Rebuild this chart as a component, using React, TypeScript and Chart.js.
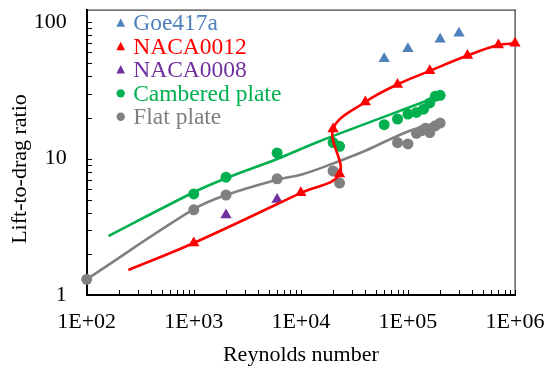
import React, { useEffect, useRef } from 'react';
import { Chart, registerables } from 'chart.js';

Chart.register(...registerables);

// ---- data (Reynolds number, lift-to-drag ratio) ----
const goeRe = [6e4, 1e5, 2e5, 3e5];
const goeLD = [54, 64, 75, 83];

const naca0012Re = [1e3, 1e4, 2.3e4, 2e4, 4e4, 8e4, 1.6e5, 3.6e5, 7e5, 1e6];
const naca0012LD = [2.4, 5.6, 7.7, 16.5, 26, 35, 44, 57, 68, 70];
const naca0012CurveRe = [245, 1e3, 1e4, 2.3e4, 2e4, 4e4, 8e4, 1.6e5, 3.6e5, 7e5, 1e6];
const naca0012CurveLD = [1.52, 2.4, 5.6, 7.7, 16.5, 26, 35, 44, 57, 68, 70];

const naca0008Re = [2e3, 6e3];
const naca0008LD = [3.85, 5.0];

const camberRe = [1e3, 2e3, 6e3, 2e4, 2.3e4, 6e4, 8e4, 1e5, 1.2e5, 1.4e5, 1.6e5, 1.8e5, 2e5];
const camberLD = [5.5, 7.3, 11, 13.1, 12.3, 17.7, 19.5, 21.2, 21.8, 23.0, 25.6, 28.6, 29.1];
const camberCurveRe = [160, 1e3, 2e3, 6e3, 1.5e4, 1.66e5];
const camberCurveLD = [2.7, 5.66, 7.17, 9.93, 13.4, 27.3];

const flatRe = [100, 1e3, 2e3, 6e3, 2e4, 2.3e4, 8e4, 1e5, 1.2e5, 1.34e5, 1.46e5, 1.6e5, 1.8e5, 2e5];
const flatLD = [1.3, 4.2, 5.4, 7.1, 8.1, 6.6, 13.1, 12.8, 15.3, 16.0, 16.7, 15.5, 17.4, 18.2];
const flatCurveRe = [100, 1e3, 2e3, 6e3, 1e4, 2e4, 4e4, 1e5, 2e5];
const flatCurveLD = [1.3, 4.25, 5.4, 7.0, 7.6, 9.2, 11.4, 15.8, 18.6];

const xTickDecades = [2, 3, 4, 5, 6];
const yTickDecades = [0, 1, 2];

const legendNames = ['Goe417a', 'NACA0012', 'NACA0008', 'Cambered plate', 'Flat plate'];
const legendStyles = ['triangle', 'triangle', 'triangle', 'circle', 'circle'];
const yTitle = 'Lift-to-drag ratio';
const xTitle = 'Reynolds number';

const BLUE = '#4F81BD';
const RED = '#FF0000';
const PURPLE = '#7030A0';
const GREEN = '#00B050';
const GRAY = '#808080';
const legendColors = [BLUE, RED, PURPLE, GREEN, GRAY];

const FONT = '"Liberation Serif", "Times New Roman", serif';

const pts = (xs: number[], ys: number[]) => xs.map((x, i) => ({ x, y: ys[i] }));

function drawFrame(chart: any) {
  const ctx: CanvasRenderingContext2D = chart.ctx;
  const a = chart.chartArea;
  const xs = chart.scales.x;
  const ys = chart.scales.y;
  const L = Math.round(a.left);
  const R = Math.round(a.right);
  const T = Math.round(a.top);
  const B = Math.round(a.bottom);
  ctx.save();
  // top / right frame
  ctx.fillStyle = '#3a3a3a';
  ctx.fillRect(L, T - 0.5, R - L + 1, 1.2);
  ctx.fillRect(R - 0.5, T, 1.2, B - T);
  // inside ticks
  ctx.fillStyle = '#000000';
  for (let e = xTickDecades[0]; e < xTickDecades[xTickDecades.length - 1]; e++) {
    for (let n = 1; n <= 10; n++) {
      const px = Math.round(xs.getPixelForValue(n * Math.pow(10, e)));
      ctx.fillRect(px, B - 5, 1, 5);
    }
  }
  for (let e = yTickDecades[0]; e <= yTickDecades[yTickDecades.length - 1]; e++) {
    for (let n = 1; n <= 9; n++) {
      const v = n * Math.pow(10, e);
      if (v > ys.max) continue;
      const py = Math.round(ys.getPixelForValue(v));
      ctx.fillRect(L, py, 5, 1);
    }
  }
  // main axes
  ctx.fillRect(L - 1, T - 0.5, 2, B - T + 1.5);
  ctx.fillRect(L - 1, B - 1, R - L + 1.5, 2);
  // y-axis title
  ctx.fillStyle = '#000000';
  ctx.font = `22px ${FONT}`;
  ctx.textAlign = 'center';
  ctx.textBaseline = 'middle';
  ctx.translate(20.5, 169);
  ctx.rotate(-Math.PI / 2);
  ctx.fillText(yTitle, 0, 0);
  ctx.restore();
}

const decorPlugin = {
  id: 'frameDecor',
  beforeDatasetsDraw(chart: any) {
    drawFrame(chart);
  },
};

const legendPlugin = {
  id: 'insideLegend',
  afterDraw(chart: any) {
    const { ctx, chartArea: a } = chart;
    ctx.save();
    ctx.font = `23.5px ${FONT}`;
    ctx.textBaseline = 'middle';
    ctx.textAlign = 'left';
    legendNames.forEach((name, i) => {
      const cy = a.top + 13.3 + i * 23.35;
      const mx = a.left + 34;
      ctx.fillStyle = legendColors[i];
      ctx.beginPath();
      if (legendStyles[i] === 'circle') {
        ctx.arc(mx, cy, 4.2, 0, Math.PI * 2);
      } else {
        const r = 5;
        ctx.moveTo(mx, cy - r);
        ctx.lineTo(mx + r * 0.866, cy + r * 0.5 + 1);
        ctx.lineTo(mx - r * 0.866, cy + r * 0.5 + 1);
        ctx.closePath();
      }
      ctx.fill();
      ctx.fillText(name, a.left + 46.5, cy + 1);
    });
    ctx.restore();
  },
};

export default function App() {
  const ref = useRef<HTMLCanvasElement>(null);
  useEffect(() => {
    const tickFont = { family: FONT, size: 22 };
    const chart = new Chart(ref.current as HTMLCanvasElement, {
      type: 'scatter',
      data: {
        datasets: [
          {
            label: 'NACA0012',
            data: pts(naca0012Re, naca0012LD),
            pointStyle: 'triangle',
            pointRadius: 6.5,
            pointBackgroundColor: RED,
            pointBorderWidth: 0,
            borderColor: RED,
            showLine: false,
            clip: false,
            order: 1,
          },
          {
            label: 'NACA0012 curve',
            data: pts(naca0012CurveRe, naca0012CurveLD),
            showLine: true,
            pointRadius: 0,
            borderColor: RED,
            borderWidth: 2.6,
            tension: 0.36,
            clip: false,
            order: 2,
          },
          {
            label: 'Goe417a',
            data: pts(goeRe, goeLD),
            pointStyle: 'triangle',
            pointRadius: 6.5,
            pointBackgroundColor: BLUE,
            pointBorderWidth: 0,
            borderColor: BLUE,
            showLine: false,
            clip: false,
            order: 3,
          },
          {
            label: 'NACA0008',
            data: pts(naca0008Re, naca0008LD),
            pointStyle: 'triangle',
            pointRadius: 6.5,
            pointBackgroundColor: PURPLE,
            pointBorderWidth: 0,
            borderColor: PURPLE,
            showLine: false,
            clip: false,
            order: 3,
          },
          {
            label: 'Cambered plate',
            data: pts(camberRe, camberLD),
            pointStyle: 'circle',
            pointRadius: 5.5,
            pointBackgroundColor: GREEN,
            pointBorderWidth: 0,
            borderColor: GREEN,
            showLine: false,
            clip: false,
            order: 4,
          },
          {
            label: 'Flat plate',
            data: pts(flatRe, flatLD),
            pointStyle: 'circle',
            pointRadius: 5.5,
            pointBackgroundColor: GRAY,
            pointBorderWidth: 0,
            borderColor: GRAY,
            showLine: false,
            clip: false,
            order: 4,
          },
          {
            label: 'Cambered curve',
            data: pts(camberCurveRe, camberCurveLD),
            showLine: true,
            pointRadius: 0,
            borderColor: GREEN,
            borderWidth: 2.6,
            tension: 0.36,
            clip: false,
            order: 6,
          },
          {
            label: 'Flat curve',
            data: pts(flatCurveRe, flatCurveLD),
            showLine: true,
            pointRadius: 0,
            borderColor: GRAY,
            borderWidth: 2.6,
            tension: 0.36,
            clip: false,
            order: 6,
          },
        ],
      },
      options: {
        animation: false,
        responsive: false,
        devicePixelRatio: 1,
        layout: { padding: { left: 0, right: 32, top: 10, bottom: 0 } },
        plugins: { legend: { display: false }, tooltip: { enabled: false } },
        scales: {
          x: {
            type: 'logarithmic',
            min: 100,
            max: 1e6,
            grid: { display: false, drawTicks: false },
            border: { display: true, color: '#000000', width: 2 },
            ticks: {
              autoSkip: false,
              maxRotation: 0,
              padding: 14,
              color: '#000',
              font: tickFont,
              callback: (v: any) => {
                const l = Math.log10(Number(v));
                if (Math.abs(l - Math.round(l)) > 1e-9) return '';
                return '1E+' + String(Math.round(l)).padStart(2, '0');
              },
            },
            title: {
              display: true,
              text: xTitle,
              color: '#000',
              font: tickFont,
              padding: { top: 0, bottom: 2 },
            },
            afterFit: (s: any) => {
              s.height = 75.2;
              s.paddingLeft = 0;
              s.paddingRight = 0;
            },
          },
          y: {
            type: 'logarithmic',
            min: 1,
            max: 123,
            grid: { display: false, drawTicks: false },
            border: { display: true, color: '#000000', width: 2 },
            ticks: {
              autoSkip: false,
              padding: 20,
              color: '#000',
              font: tickFont,
              callback: (v: any) => {
                const l = Math.log10(Number(v));
                if (Math.abs(l - Math.round(l)) > 1e-9) return '';
                return String(Math.round(Math.pow(10, Math.round(l))));
              },
            },
            title: { display: false },
            afterFit: (s: any) => {
              s.width = 86.7;
              s.paddingTop = 0;
              s.paddingBottom = 0;
            },
          },
        },
      },
      plugins: [decorPlugin, legendPlugin],
    } as any);
    return () => chart.destroy();
  }, []);
  return (
    <div style={{ position: 'absolute', left: 0, top: 0, width: 547, height: 370, background: '#fff' }}>
      <canvas ref={ref} width={547} height={370} style={{ display: 'block' }} />
    </div>
  );
}
